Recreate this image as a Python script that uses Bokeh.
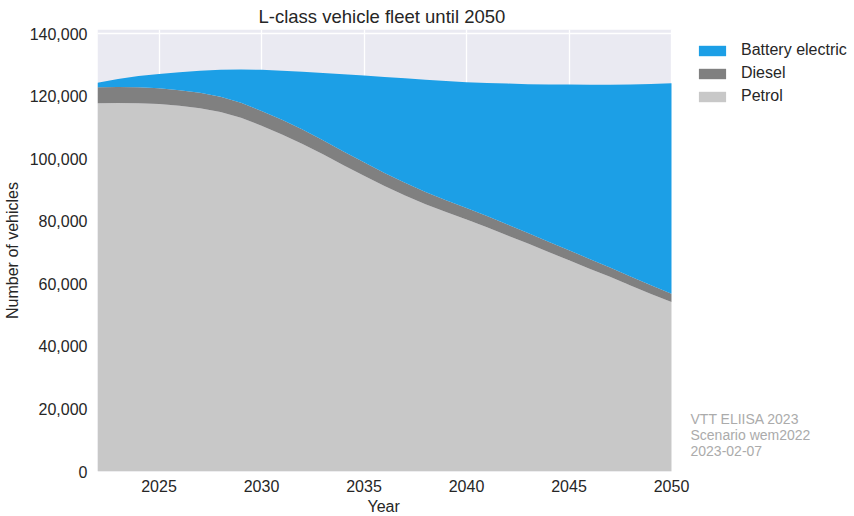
from bokeh.plotting import figure
from bokeh.models import (ColumnDataSource, Range1d, FixedTicker, SingleIntervalTicker,
                          NumeralTickFormatter, Legend, LegendItem, Label, BoxAnnotation, Title)
from bokeh.embed import file_html
from bokeh.resources import INLINE

# L-class vehicle fleet by powertrain, vehicles per year
years = list(range(2022, 2051))
petrol = [117800, 117900, 117800, 117600, 117000, 116200, 115000, 113200, 110600, 107800,
          104800, 101500, 98000, 94600, 91300, 88300, 85500, 83000, 80600, 78100,
          75500, 72900, 70200, 67600, 64900, 62300, 59500, 56800, 54200]
diesel = [5100, 5100, 5100, 5000, 5000, 5000, 4900, 4800, 4700, 4700,
          4600, 4500, 4400, 4300, 4200, 4100, 3900, 3800, 3700, 3600,
          3500, 3400, 3300, 3200, 3100, 3000, 2900, 2800, 2700]
battery_electric = [1500, 2600, 3600, 4600, 5700, 7000, 8600, 10600, 13200, 15700,
                    18500, 21500, 24700, 27800, 30700, 33400, 35900, 38100, 40200, 42600,
                    45100, 47600, 50300, 53000, 55700, 58400, 61400, 64400, 67300]

x_ticks = [2025, 2030, 2035, 2040, 2045, 2050]
series_names = ["Petrol", "Diesel", "Battery electric"]
series_colors = ["#C8C8C8", "#808080", "#1C9FE6"]
source_notes = ["VTT ELIISA 2023", "Scenario wem2022", "2023-02-07"]

source = ColumnDataSource(dict(year=years, petrol=petrol, diesel=diesel, bev=battery_electric))

FONT = "Liberation Sans"
TEXT = "#262626"
W, H = 854, 516
LEFT, TOP, BOTTOM = 97, 29, 45
PX_PER_YEAR = 20.5          # plot area spans 2022-2050 over 574 px
x_end = years[0] + (W - LEFT) / PX_PER_YEAR   # frame continues to the right for legend/notes

p = figure(width=W, height=H, output_backend="svg", toolbar_location=None,
           x_range=Range1d(years[0], x_end), y_range=Range1d(0, 141400),
           min_border_left=LEFT, min_border_right=0, min_border_top=TOP,
           min_border_bottom=BOTTOM)

# title centred over the shaded plot area
title_center = (years[-1] - years[0]) * PX_PER_YEAR / 2
p.title.text = "L-class vehicle fleet until 2050"
p.title.align = "left"
p.title.offset = title_center - 126
p.title.text_font = FONT
p.title.text_font_size = "18.5px"
p.title.text_font_style = "normal"
p.title.text_color = TEXT
p.title.standoff = 5

p.background_fill_color = "white"
p.border_fill_color = "white"
p.outline_line_color = None

# shaded plot background only between the first and last year
p.add_layout(BoxAnnotation(left=years[0], right=years[-1], fill_color="#EAEAF2",
                           fill_alpha=1, line_color=None, level="image"))

renderers = p.varea_stack(["petrol", "diesel", "bev"], x="year", source=source,
                          color=series_colors)

# axes
p.xaxis.ticker = FixedTicker(ticks=x_ticks)
p.yaxis.ticker = SingleIntervalTicker(interval=20000)
p.yaxis.formatter = NumeralTickFormatter(format="0,0")
p.yaxis.axis_label = "Number of vehicles"
for ax in (p.xaxis, p.yaxis):
    ax.axis_line_color = None
    ax.major_tick_line_color = None
    ax.minor_tick_line_color = None
    ax.major_tick_out = 0
    ax.major_tick_in = 0
    ax.minor_tick_out = 0
    ax.minor_tick_in = 0
    ax.major_label_text_font = FONT
    ax.major_label_text_font_size = "16px"
    ax.major_label_text_color = TEXT
    ax.axis_label_text_font = FONT
    ax.axis_label_text_font_size = "16px"
    ax.axis_label_text_font_style = "normal"
    ax.axis_label_text_color = TEXT
p.xaxis.major_label_standoff = 8
p.yaxis.major_label_standoff = 10
p.yaxis.axis_label_standoff = 6

# x axis title, centred under the shaded plot area
p.add_layout(Title(text="Year", align="left", offset=title_center - 17, text_font=FONT,
                   text_font_size="16px", text_font_style="normal", text_color=TEXT,
                   standoff=2), "below")

p.xgrid.ticker = FixedTicker(ticks=x_ticks)
p.ygrid.ticker = SingleIntervalTicker(interval=20000)
for g in (p.xgrid, p.ygrid):
    g.grid_line_color = "white"
    g.grid_line_width = 1.3

# legend, top to bottom in reverse stacking order
items = [LegendItem(label=series_names[i], renderers=[renderers[i]]) for i in (2, 1, 0)]
legend = Legend(items=items, location=(598, 366), padding=0, margin=0,
                glyph_width=34, glyph_height=13, label_standoff=12, spacing=5,
                label_text_font=FONT, label_text_font_size="16px", label_text_color=TEXT,
                label_height=16, border_line_color=None, background_fill_alpha=0)
p.add_layout(legend, "center")

# source notes to the right of the plot area
for i, note in enumerate(source_notes):
    p.add_layout(Label(x=years[-1], y=0, x_offset=19, y_offset=53 - 16 * i, text=note,
                       text_font=FONT, text_font_size="14px", text_color="#ABABAB",
                       text_baseline="middle"))

open("out.html", "w").write(file_html(p, INLINE))
